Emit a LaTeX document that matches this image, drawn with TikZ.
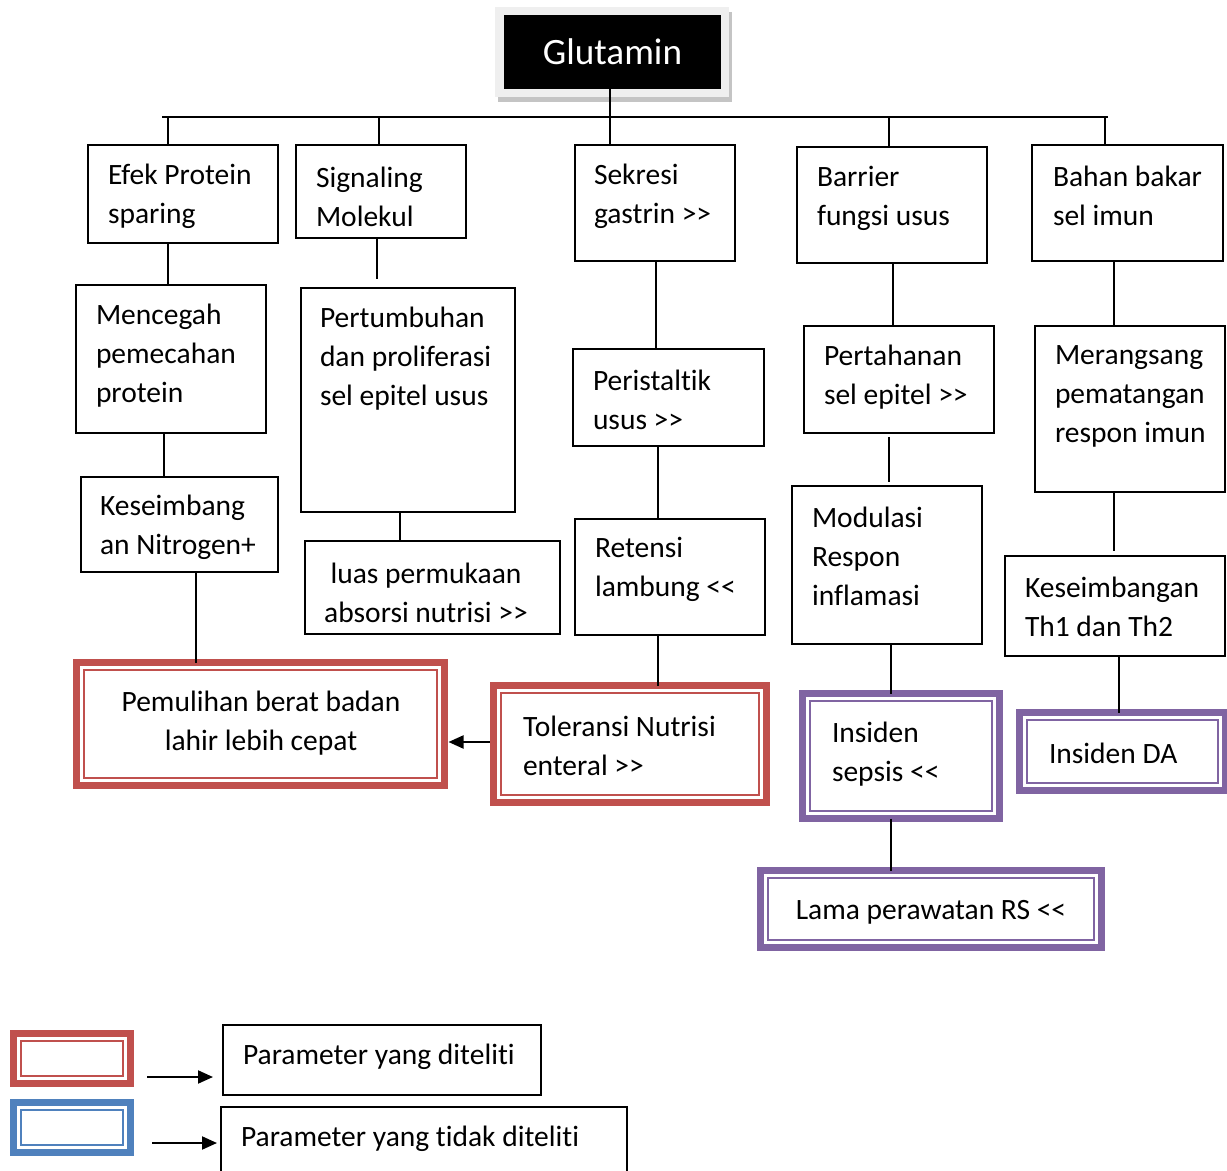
\documentclass[tikz,border=0pt]{standalone}
\usepackage{fontspec}
\setmainfont{Carlito}[Ligatures={TeXOff,NoCommon}]
\usetikzlibrary{arrows.meta,calc}
\definecolor{cred}{HTML}{C0504D}
\definecolor{cpur}{HTML}{8064A2}
\definecolor{cblue}{HTML}{4F81BD}
\definecolor{shlight}{HTML}{EFEFEF}
\definecolor{shdark}{HTML}{C4C4C4}
\tikzset{
  every node/.style={outer sep=0pt},
  pbox/.style={draw, line width=1pt, inner sep=0pt},
  txt/.style={font=\fontsize{14.75}{19.5}\selectfont, align=left, inner sep=0pt, yshift=-1.5pt},
  ctxt/.style={font=\fontsize{14.75}{19.5}\selectfont, align=center, inner sep=0pt, yshift=-1.5pt},
  conn/.style={line width=1pt},
  arr/.style={line width=1pt, -{Triangle[length=7.5pt,width=6.5pt]}},
}
% plain box: name, x1, y1, x2, y2 (pixel coords)
\newcommand\pbx[5]{\node[pbox, anchor=north west,
   minimum width={(#4-#2-2)*0.5pt}, minimum height={(#5-#3-2)*0.5pt}]
   (#1) at ({#2+1},{#3+1}) {};}
% double box: colour, name, x1, y1, x2, y2 (outer pixel coords)
\newcommand\dbl[6]{\node[draw=#1, line width=3.5pt, inner sep=0pt, anchor=north west,
   minimum width={(#5-#3-7)*0.5pt}, minimum height={(#6-#4-7)*0.5pt}]
   (#2) at ({#3+3.5},{#4+3.5}) {};
 \draw[#1, line width=1.25pt] ($(#2.north west)+(7.5,7.5)$) rectangle ($(#2.south east)+(-7.5,-7.5)$);}
\begin{document}
\begin{tikzpicture}[x=0.5pt,y=-0.5pt]
\useasboundingbox (0,0) rectangle (1227,1171);
% Glutamin with shadow
\fill[shdark] (498,12) rectangle (732,102);
\fill[shlight] (495,7) rectangle (729,97);
\node[fill=black, text=white, inner sep=0pt, anchor=north west,
  minimum width={217*0.5pt}, minimum height={74*0.5pt},
  font=\fontsize{18.6}{22}\selectfont] (glut) at (504,15) {Glutamin};
% bus
\coordinate (busL) at (162,117);
\coordinate (busR) at (1108,117);
\draw[conn] (busL) -- (busR);
% plain boxes
\pbx{efek}{87}{144}{279}{244}
\pbx{sig}{295}{144}{467}{239}
\pbx{sek}{574}{144}{736}{262}
\pbx{bar}{796}{146}{988}{264}
\pbx{bah}{1031}{144}{1224}{262}
\pbx{mcg}{75}{284}{267}{434}
\pbx{pert}{300}{287}{516}{513}
\pbx{peri}{572}{348}{765}{447}
\pbx{perth}{803}{325}{995}{434}
\pbx{mer}{1034}{325}{1226}{493}
\pbx{kes}{80}{476}{279}{573}
\pbx{luas}{304}{540}{561}{635}
\pbx{ret}{574}{518}{766}{636}
\pbx{mod}{791}{485}{983}{645}
\pbx{kth}{1004}{555}{1226}{657}
% double boxes
\dbl{cred}{pem}{73}{659}{448}{789}
\dbl{cred}{tol}{490}{682}{770}{806}
\dbl{cpur}{sep}{799}{690}{1003}{822}
\dbl{cpur}{da}{1016}{709}{1229}{794}
\dbl{cpur}{lama}{757}{867}{1105}{951}
% texts
\node[txt, anchor=west] (t-efek) at (108,193.5) {Efek Protein\\sparing};
\node[txt, anchor=west] (t-sig) at (316,193.5) {Signaling\\Molekul};
\node[txt, anchor=west] (t-sek) at (594,193.5) {Sekresi\\gastrin >>};
\node[txt, anchor=west] (t-bar) at (817,195.5) {Barrier\\fungsi usus};
\node[txt, anchor=west] (t-bah) at (1053,193) {Bahan bakar\\sel imun};
\node[txt, anchor=west] (t-mcg) at (96,353) {Mencegah\\pemecahan\\protein};
\node[txt, anchor=west] (t-pert) at (320,355.5) {Pertumbuhan\\dan proliferasi\\sel epitel usus};
\node[txt, anchor=west] (t-peri) at (593,396.5) {Peristaltik\\usus >>};
\node[txt, anchor=west] (t-perth) at (824,374) {Pertahanan\\sel epitel >>};
\node[txt, anchor=west] (t-mer) at (1055,393.5) {Merangsang\\pematangan\\respon imun};
\node[txt, anchor=west] (t-kes) at (100,524.5) {Keseimbang\\an Nitrogen+};
\node[ctxt] (t-luas) at (426,589.5) {luas permukaan\\absorsi nutrisi >>};
\node[txt, anchor=west] (t-ret) at (595,566.5) {Retensi\\lambung <<};
\node[txt, anchor=west] (t-mod) at (812,553) {Modulasi\\Respon\\inflamasi};
\node[txt, anchor=west] (t-kth) at (1025,603.5) {Keseimbangan\\Th1 dan Th2};
\node[ctxt] (t-pem) at (261,720) {Pemulihan berat badan\\lahir lebih cepat};
\node[txt, anchor=west] (t-tol) at (523,742.5) {Toleransi Nutrisi\\enteral >>};
\node[txt, anchor=west] (t-sep) at (832,751.5) {Insiden\\sepsis <<};
\node[txt, anchor=west] (t-da) at (1049,750) {Insiden DA};
\node[ctxt] (t-lama) at (931,909) {Lama perawatan RS <<};
% connectors from bus
\draw[conn] (glut.south -| 610,0) -- (sek.north -| 610,0);
\draw[conn] (busL -| 168,0) -- (efek.north -| 168,0);
\draw[conn] (busL -| 379,0) -- (sig.north -| 379,0);
\draw[conn] (busL -| 889,0) -- (bar.north -| 889,0);
\draw[conn] (busL -| 1105,0) -- (bah.north -| 1105,0);
% column connectors
\draw[conn] (efek.south -| 168,0) -- (mcg.north -| 168,0);
\draw[conn] (mcg.south -| 164,0) -- (kes.north -| 164,0);
\draw[conn] (kes.south -| 196,0) -- (pem.north -| 196,0);
\draw[conn, shorten >=4.5pt] (sig.south -| 377,0) -- (pert.north -| 377,0);
\draw[conn] (pert.south -| 400,0) -- (luas.north -| 400,0);
\draw[conn] (sek.south -| 656,0) -- (peri.north -| 656,0);
\draw[conn] (peri.south -| 658,0) -- (ret.north -| 658,0);
\draw[conn] (ret.south -| 658,0) -- (tol.north -| 658,0);
\draw[conn] (bar.south -| 893,0) -- (perth.north -| 893,0);
\draw[conn, shorten <=2pt, shorten >=2pt] (perth.south -| 889,0) -- (mod.north -| 889,0);
\draw[conn] (mod.south -| 891,0) -- (sep.north -| 891,0);
\draw[conn] (sep.south -| 891,0) -- (lama.north -| 891,0);
\draw[conn] (bah.south -| 1114,0) -- (mer.north -| 1114,0);
\draw[conn, shorten >=2.5pt] (mer.south -| 1114,0) -- (kth.north -| 1114,0);
\draw[conn] (kth.south -| 1119,0) -- (da.north -| 1119,0);
% arrow Toleransi -> Pemulihan
\draw[arr, shorten <=2pt, shorten >=2pt] (tol.west |- 0,742) -- (pem.east |- 0,742);
% legend
\dbl{cred}{lr}{10}{1030}{134}{1087}
\dbl{cblue}{lb}{10}{1099}{134}{1156}
\pbx{p1}{222}{1024}{542}{1096}
\pbx{p2}{220}{1106}{628}{1190}
\node[txt, anchor=west] (t-p1) at (243,1054) {Parameter yang diteliti};
\node[txt, anchor=west] (t-p2) at (241,1136) {Parameter yang tidak diteliti};
\coordinate (a1s) at (147,1077);
\coordinate (a1e) at (213,1077);
\coordinate (a2s) at (152,1143);
\coordinate (a2e) at (217,1143);
\draw[arr] (a1s) -- (a1e);
\draw[arr] (a2s) -- (a2e);
\end{tikzpicture}
\end{document}
